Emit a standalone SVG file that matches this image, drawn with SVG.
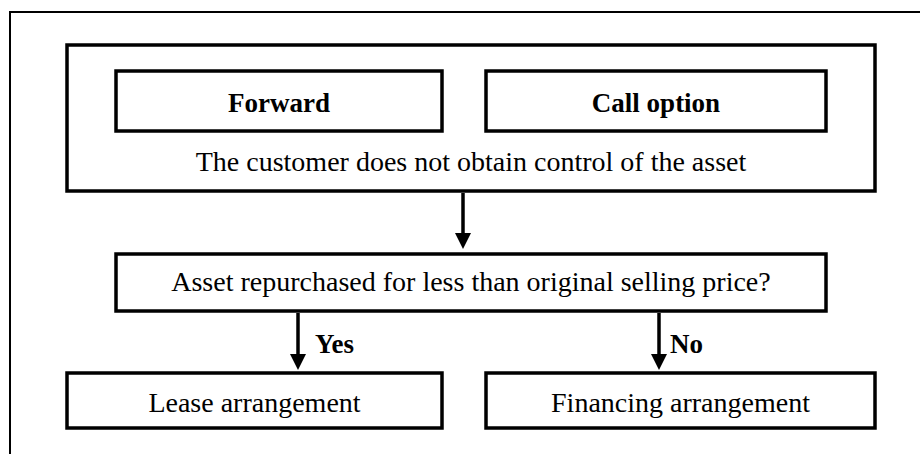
<svg xmlns="http://www.w3.org/2000/svg" width="920" height="454" viewBox="0 0 920 454">
  <style>
    .box { fill: #ffffff; stroke: #000000; stroke-width: 3.5; }
    .frame { fill: none; stroke: #000000; stroke-width: 2; }
    .edge { fill: none; stroke: #000000; stroke-width: 3.5; }
    text { font-family: "Liberation Serif", "Times New Roman", serif; font-size: 28px; fill: #000000; }
    .c { text-anchor: middle; }
    .b { font-weight: bold; font-size: 27px; }
  </style>
  <defs>
    <marker id="head" markerUnits="userSpaceOnUse" markerWidth="16" markerHeight="16" refX="2" refY="8" orient="auto">
      <path d="M0,0 L16,8 L0,16 z" fill="#000000"/>
    </marker>
  </defs>

  <rect width="920" height="454" fill="#ffffff"/>
  <!-- page frame (open at right and bottom) -->
  <path class="frame" d="M10,454 V12 H920"/>

  <g id="control-not-obtained">
    <rect class="box" x="67" y="45" width="808" height="146"/>
    <text class="c" x="471" y="171">The customer does not obtain control of the asset</text>
  </g>
  <g id="forward">
    <rect class="box" x="116" y="71" width="326" height="60"/>
    <text class="c b" x="279" y="112">Forward</text>
  </g>
  <g id="call-option">
    <rect class="box" x="486" y="71" width="340" height="60"/>
    <text class="c b" x="656" y="112">Call option</text>
  </g>
  <g id="repurchase-question">
    <rect class="box" x="116" y="254" width="710" height="57"/>
    <text class="c" x="471" y="291">Asset repurchased for less than original selling price?</text>
  </g>
  <g id="lease">
    <rect class="box" x="67" y="373" width="375" height="55"/>
    <text class="c" x="254.5" y="412">Lease arrangement</text>
  </g>
  <g id="financing">
    <rect class="box" x="486" y="373" width="389" height="55"/>
    <text class="c" x="680.5" y="412">Financing arrangement</text>
  </g>

  <g id="connectors">
    <path class="edge" d="M463,193 V235" marker-end="url(#head)"/>
    <path class="edge" d="M298,313 V356" marker-end="url(#head)"/>
    <path class="edge" d="M659,313 V356" marker-end="url(#head)"/>
    <text class="b" x="315" y="353">Yes</text>
    <text class="b" x="670" y="353">No</text>
  </g>
</svg>
